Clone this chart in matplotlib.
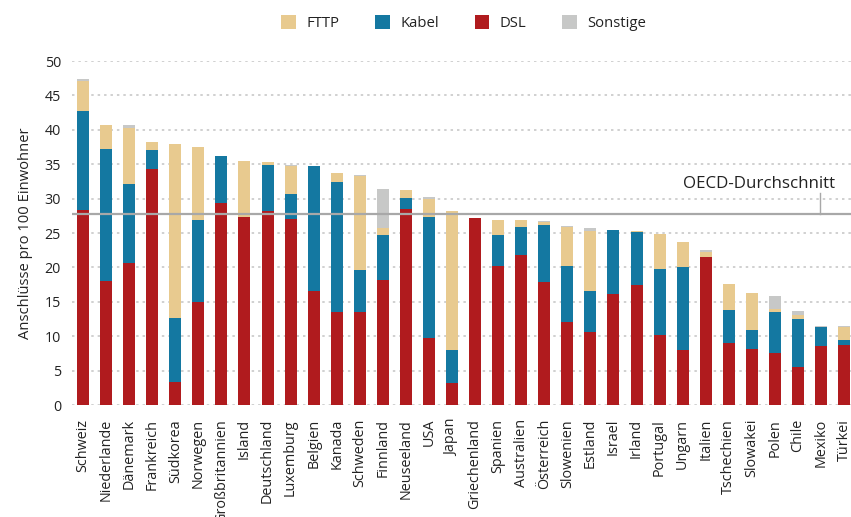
import matplotlib
matplotlib.use("Agg")
import matplotlib.pyplot as plt
import numpy as np

laender = ["Schweiz", "Niederlande", "Dänemark", "Frankreich", "Südkorea", "Norwegen",
           "Großbritannien", "Island", "Deutschland", "Luxemburg", "Belgien", "Kanada",
           "Schweden", "Finnland", "Neuseeland", "USA", "Japan", "Griechenland", "Spanien",
           "Australien", "Österreich", "Slowenien", "Estland", "Israel", "Irland",
           "Portugal", "Ungarn", "Italien", "Tschechien", "Slowakei", "Polen", "Chile",
           "Mexiko", "Türkei"]
dsl = [28.3, 18.0, 20.6, 34.3, 3.4, 15.0, 29.3, 27.3, 28.2, 27.0, 16.6, 13.5, 13.5, 18.2,
       28.5, 9.7, 3.2, 27.2, 20.2, 21.8, 17.9, 12.1, 10.6, 16.1, 17.4, 10.2, 8.0, 21.5,
       9.0, 8.1, 7.6, 5.5, 8.6, 8.7]
kabel = [14.4, 19.2, 11.5, 2.8, 9.2, 11.9, 6.9, 0.0, 6.7, 3.7, 18.1, 18.9, 6.1, 6.5,
         1.6, 17.6, 4.8, 0.0, 4.5, 4.1, 8.3, 8.1, 6.0, 9.3, 7.7, 9.6, 12.1, 0.0,
         4.8, 2.8, 5.9, 7.0, 2.7, 0.7]
fttp = [4.4, 3.5, 8.2, 1.1, 25.3, 10.6, 0.0, 8.2, 0.4, 4.1, 0.0, 1.3, 13.7, 1.0,
        1.2, 2.6, 20.2, 0.0, 2.2, 1.0, 0.4, 5.7, 8.7, 0.0, 0.2, 5.1, 3.6, 0.7,
        3.8, 5.4, 0.5, 0.6, 0.0, 1.9]
sonstige = [0.3, 0.0, 0.4, 0.0, 0.0, 0.0, 0.0, 0.0, 0.0, 0.1, 0.0, 0.0, 0.2, 5.7,
            0.0, 0.3, 0.0, 0.0, 0.0, 0.0, 0.1, 0.1, 0.4, 0.0, 0.0, 0.0, 0.0, 0.3,
            0.0, 0.0, 1.8, 0.6, 0.2, 0.2]
oecd_schnitt = 27.7

farben = {"FTTP": "#e8ca8f", "Kabel": "#1478a1", "DSL": "#b01b1e", "Sonstige": "#c7c8c7"}

plt.rcParams["font.family"] = ["Open Sans", "DejaVu Sans"]
textfarbe = "#222222"

fig = plt.figure(figsize=(8.51, 5.17), dpi=100)
ax = fig.add_axes([0.0846, 0.2166, 0.9154, 0.6654])

x = np.arange(len(laender))
b = 0.52
unten = np.zeros(len(laender))
for name, werte in [("DSL", dsl), ("Kabel", kabel), ("FTTP", fttp), ("Sonstige", sonstige)]:
    ax.bar(x, werte, b, bottom=unten, color=farben[name], label=name, zorder=2)
    unten = unten + np.array(werte)

ax.set_xlim(-0.48, 33.3)
ax.set_ylim(0, 50)
ax.set_yticks(np.arange(0, 51, 5))
ax.yaxis.grid(True, color="#c4c4c4", linestyle=(0, (1.6, 2.6)), linewidth=1.1, zorder=0)
ax.set_axisbelow(True)
for s in ax.spines.values():
    s.set_visible(False)
ax.tick_params(axis="both", length=0, labelsize=10.3, colors=textfarbe)
ax.tick_params(axis="y", pad=8)
ax.tick_params(axis="x", pad=10)
ax.set_xticks(x)
ax.set_xticklabels(laender, rotation=90, fontsize=10.4)
ax.set_ylabel("Anschlüsse pro 100 Einwohner", fontsize=10.6, color=textfarbe, labelpad=8)

# OECD-Durchschnitt
ax.axhline(oecd_schnitt, color="#a8a8a8", linewidth=1.6, zorder=3)
ax.plot([31.95, 31.95], [oecd_schnitt, oecd_schnitt + 3.1], color="#a8a8a8", linewidth=1.0, zorder=3)
ax.text(32.6, oecd_schnitt + 3.2, "OECD-Durchschnitt", ha="right", va="bottom",
        fontsize=12.2, color=textfarbe)

# Legende oben
h, l = ax.get_legend_handles_labels()
ordnung = [2, 1, 0, 3]
fig.legend([h[i] for i in ordnung], [l[i] for i in ordnung], loc="center",
           bbox_to_anchor=(0.545, 0.955), ncol=4, frameon=False, fontsize=10.7,
           handlelength=1.0, handleheight=1.0, handletextpad=0.7, columnspacing=2.4,
           labelcolor=textfarbe)

fig.savefig("out.png", dpi=100)
